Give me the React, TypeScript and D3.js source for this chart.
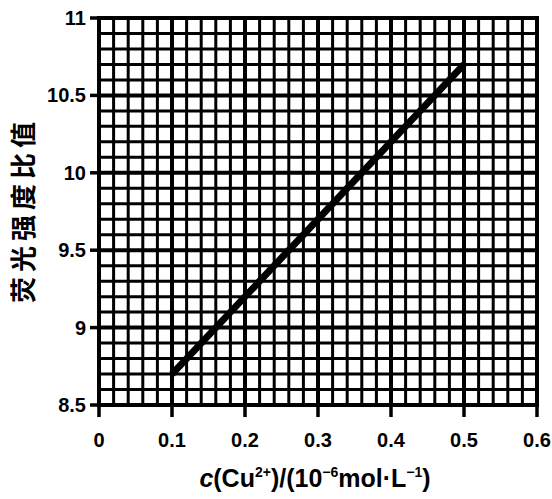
import React from "react";
import * as d3 from "d3";

const xTicks = [0, 0.1, 0.2, 0.3, 0.4, 0.5, 0.6];
const yTicks = [8.5, 9, 9.5, 10, 10.5, 11];
const yTickLabels = ["8.5", "9", "9.5", "10", "10.5", "11"];
const lineX = [0.1, 0.5];
const lineY = [8.7, 10.7];

const W = 552;
const H = 499;
const FONT = "'Liberation Sans', Arial, sans-serif";

export default function App() {
  const x = d3.scaleLinear().domain([0, 0.6]).range([99, 537]);
  const y = d3.scaleLinear().domain([8.5, 11]).range([405, 18]);
  const minorX = d3.range(0, 31).map((i) => i * 0.02);
  const minorY = d3.range(0, 26).map((i) => 8.5 + i * 0.1);
  const pts: [number, number][] = lineX.map((v, i) => [v, lineY[i]]);
  const lineGen = d3
    .line<[number, number]>()
    .x((d) => x(d[0]))
    .y((d) => y(d[1]));
  const [x0, x1] = x.range();
  const [y0, y1] = y.range();
  return (
    <svg
      width={W}
      height={H}
      style={{ position: "absolute", left: 0, top: 0, background: "#fff" }}
    >
      <rect x={0} y={0} width={W} height={H} fill="#fff" />
      {minorX.map((v, i) => (
        <line
          key={"mx" + i}
          x1={x(v)}
          x2={x(v)}
          y1={y1}
          y2={y0}
          stroke="#000"
          strokeWidth={i % 5 === 0 ? 4 : 3}
        />
      ))}
      {minorY.map((v, i) => (
        <line
          key={"my" + i}
          x1={x0}
          x2={x1}
          y1={y(v)}
          y2={y(v)}
          stroke="#000"
          strokeWidth={i % 5 === 0 ? 4 : 3}
        />
      ))}
      <rect
        x={x0}
        y={y1}
        width={x1 - x0}
        height={y0 - y1}
        fill="none"
        stroke="#000"
        strokeWidth={4}
      />
      {xTicks.map((v, i) => (
        <g key={"xt" + i}>
          <line x1={x(v)} x2={x(v)} y1={y0} y2={y0 + 12} stroke="#000" strokeWidth={3.5} />
          <text
            x={x(v)}
            y={447}
            textAnchor="middle"
            fontFamily={FONT}
            fontWeight="bold"
            fontSize={20}
            fill="#000"
          >
            {v === 0 ? "0" : String(v)}
          </text>
        </g>
      ))}
      {yTicks.map((v, i) => (
        <g key={"yt" + i}>
          <line x1={x0 - 9} x2={x0} y1={y(v)} y2={y(v)} stroke="#000" strokeWidth={3.5} />
          <text
            x={86}
            y={y(v) + 7}
            textAnchor="end"
            fontFamily={FONT}
            fontWeight="bold"
            fontSize={20}
            fill="#000"
          >
            {yTickLabels[i]}
          </text>
        </g>
      ))}
      <path d={lineGen(pts) || ""} stroke="#000" strokeWidth={7} fill="none" />
      <text
        transform={`translate(33,210) rotate(-90)`}
        textAnchor="middle"
        fontFamily="'Noto Sans CJK SC', sans-serif"
        fontWeight="bold"
        fontSize={26}
        letterSpacing={5}
        fill="#000"
      >
        荧光强度比值
      </text>
      <text
        x={315}
        y={487}
        textAnchor="middle"
        fontFamily={FONT}
        fontWeight="bold"
        fontSize={25}
        fill="#000"
      >
        <tspan fontStyle="italic">c</tspan>
        <tspan>(Cu</tspan>
        <tspan fontSize={14} dy={-10}>2+</tspan>
        <tspan dy={10}>)/(10</tspan>
        <tspan fontSize={14} dy={-10}>−6</tspan>
        <tspan dy={10}>mol·L</tspan>
        <tspan fontSize={14} dy={-10}>−1</tspan>
        <tspan dy={10}>)</tspan>
      </text>
    </svg>
  );
}
